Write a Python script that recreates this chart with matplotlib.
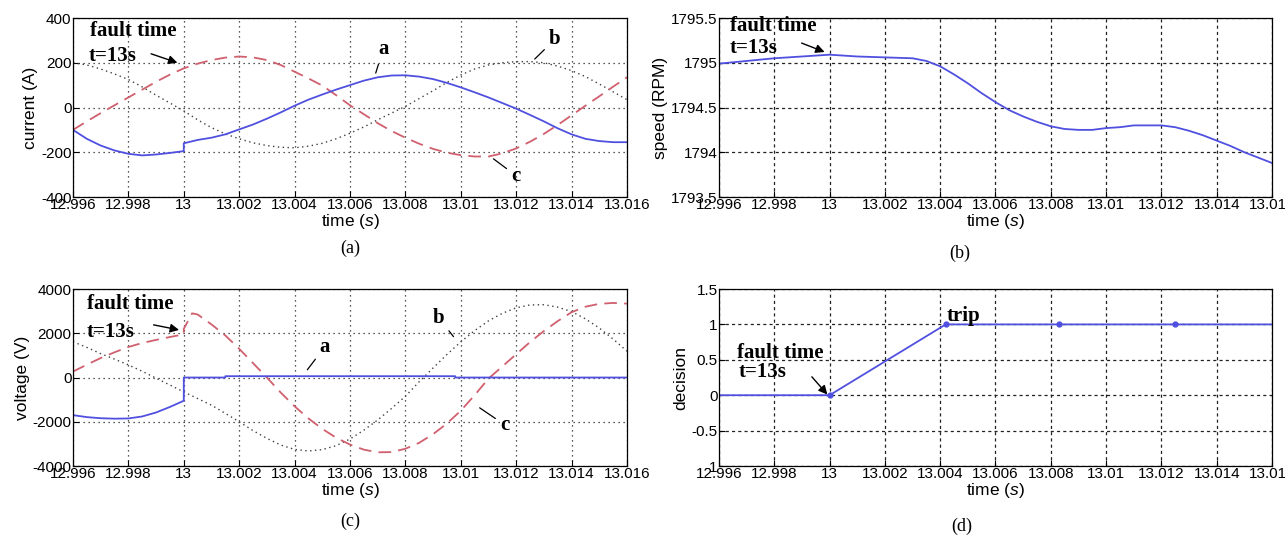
import numpy as np
import matplotlib
matplotlib.use('Agg')
import matplotlib.pyplot as plt

# ---- data ----
t_ticks = [12.996, 12.998, 13.0, 13.002, 13.004, 13.006, 13.008, 13.01, 13.012, 13.014, 13.016]
t_tick_labels = ['12.996', '12.998', '13', '13.002', '13.004', '13.006', '13.008',
                 '13.01', '13.012', '13.014', '13.016']

# common half-millisecond time base for the sinusoidal traces
t_half = [12.996, 12.9965, 12.997, 12.9975, 12.998, 12.9985, 12.999, 12.9995, 13.0,
          13.0005, 13.001, 13.0015, 13.002, 13.0025, 13.003, 13.0035, 13.004, 13.0045,
          13.005, 13.0055, 13.006, 13.0065, 13.007, 13.0075, 13.008, 13.0085, 13.009,
          13.0095, 13.010, 13.0105, 13.011, 13.0115, 13.012, 13.0125, 13.013, 13.0135,
          13.014, 13.0145, 13.015, 13.0155, 13.016]

# (a) phase currents
t_ia = [12.996, 12.9965, 12.997, 12.9975, 12.998, 12.9985, 12.999, 12.9995, 13.0,
        13.0, 13.0005, 13.001, 13.0015, 13.002, 13.0025, 13.003, 13.0035, 13.004, 13.0045,
        13.005, 13.0055, 13.006, 13.0065, 13.007, 13.0075, 13.008, 13.0085, 13.009,
        13.0095, 13.010, 13.0105, 13.011, 13.0115, 13.012, 13.0125, 13.013, 13.0135,
        13.014, 13.0145, 13.015, 13.0155, 13.016]
ia = [-100, -140, -170, -192, -207, -214, -210, -203, -195,
      -160, -145, -135, -120, -98, -76, -50, -22, 8, 35,
      58, 80, 100, 120, 135, 143, 144, 138, 127,
      110, 90, 68, 45, 20, -5, -33, -62, -93,
      -120, -140, -150, -155, -155]
ib = [200, 190, 172, 150, 125, 92, 55, 20, -15,
      -55, -90, -118, -140, -158, -170, -178, -180, -173,
      -160, -140, -115, -87, -55, -25, 5, 40, 75,
      112, 145, 172, 190, 200, 205, 205, 200, 185,
      165, 138, 105, 70, 35]
ic = [-100, -62, -25, 10, 45, 80, 115, 147, 175,
      196, 212, 223, 228, 224, 212, 190, 160, 130,
      98, 55, 10, -30, -70, -105, -135, -162, -185,
      -202, -213, -219, -219, -205, -183, -153, -118, -78,
      -35, 8, 50, 93, 135]

# (b) rotor speed
t_spd = [12.996, 12.997, 12.998, 12.999, 13.0, 13.001, 13.002, 13.003, 13.0035, 13.004,
         13.0045, 13.005, 13.0055, 13.006, 13.0065, 13.007, 13.0075, 13.008, 13.0085,
         13.009, 13.0095, 13.010, 13.0105, 13.011, 13.0115, 13.012, 13.0125, 13.013,
         13.0135, 13.014, 13.0145, 13.015, 13.0155, 13.016]
spd = [1794.99, 1795.02, 1795.05, 1795.07, 1795.09, 1795.07, 1795.06, 1795.05, 1795.02, 1794.96,
       1794.87, 1794.77, 1794.66, 1794.56, 1794.47, 1794.40, 1794.34, 1794.29, 1794.26,
       1794.25, 1794.25, 1794.27, 1794.28, 1794.30, 1794.30, 1794.30, 1794.28, 1794.24,
       1794.19, 1794.13, 1794.07, 1794.0, 1793.94, 1793.88]

# (c) phase voltages
t_va = [12.996, 12.9965, 12.997, 12.9975, 12.998, 12.9985, 12.999, 12.9995, 13.0,
        13.0, 13.0015, 13.0015, 13.0098, 13.0098, 13.016]
va = [-1700, -1790, -1840, -1860, -1850, -1760, -1580, -1330, -1050,
      0, 0, 60, 60, 0, 0]
vb = [1620, 1360, 1080, 830, 570, 280, -30, -340, -650,
      -950, -1250, -1620, -2000, -2400, -2750, -3050, -3250, -3320,
      -3260, -3080, -2780, -2380, -1920, -1400, -850, -190, 430,
      1040, 1610, 2120, 2560, 2900, 3150, 3280, 3290, 3180,
      2980, 2650, 2240, 1740, 1190]
t_vc = [12.996, 12.9965, 12.997, 12.9975, 12.998, 12.9985, 12.999, 12.9995, 13.0,
        13.0, 13.0003, 13.0005, 13.001, 13.0015, 13.002, 13.0025, 13.003, 13.0035, 13.004,
        13.0045, 13.005, 13.0055, 13.006, 13.0065, 13.007, 13.0075, 13.008, 13.0085,
        13.009, 13.0095, 13.010, 13.0105, 13.011, 13.0115, 13.012, 13.0125, 13.013,
        13.0135, 13.014, 13.0145, 13.015, 13.0155, 13.016]
vc = [270, 580, 880, 1140, 1380, 1560, 1700, 1830, 1950,
      2200, 2900, 2850, 2400, 1900, 1300, 650, 0, -680, -1300,
      -1850, -2320, -2720, -3030, -3260, -3380, -3370, -3220, -2950,
      -2560, -2080, -1500, -800, -50, 500, 1050, 1600, 2100,
      2550, 2950, 3200, 3330, 3370, 3340]

# (d) relay decision
t_dec = [12.996, 13.0, 13.0042, 13.0083, 13.0125, 13.016]
dec = [0, 0, 1, 1, 1, 1]
t_dec_pts = [13.0, 13.0042, 13.0083, 13.0125]
dec_pts = [0, 1, 1, 1]

blue = '#5050e0'
red = '#d0606e'
dot_col = '#404040'

plt.rcParams['font.family'] = ['Liberation Sans', 'DejaVu Sans']
plt.rcParams['mathtext.fontset'] = 'custom'
plt.rcParams['mathtext.it'] = 'Liberation Sans:italic'

fig = plt.figure(figsize=(12.85, 5.39), dpi=100)
ax_a = fig.add_axes([0.0568, 0.6345, 0.4311, 0.3321])
ax_b = fig.add_axes([0.5595, 0.6345, 0.4304, 0.3321])
ax_c = fig.add_axes([0.0568, 0.1354, 0.4311, 0.3284])
ax_d = fig.add_axes([0.5595, 0.1354, 0.4304, 0.3284])


def style_axis(ax, yticks, ylabels, ylabel, grid_ls):
    ax.set_xlim(12.996, 13.016)
    ax.set_ylim(yticks[0], yticks[-1])
    ax.set_xticks(t_ticks)
    ax.set_xticklabels(t_tick_labels, fontsize=11)
    ax.set_yticks(yticks)
    ax.set_yticklabels(ylabels, fontsize=11)
    ax.tick_params(direction='in', length=4, pad=1)
    ax.grid(True, color='#222222', linestyle=grid_ls, linewidth=0.9)
    ax.set_xlabel('time ($s$)', fontsize=12.5, labelpad=0)
    ax.set_ylabel(ylabel, fontsize=12.5, labelpad=2)
    for sp in ax.spines.values():
        sp.set_linewidth(0.9)


serif = dict(family=['Liberation Serif', 'DejaVu Serif'], fontsize=15, fontweight='bold')
arrow = dict(arrowstyle='-|>', color='black', lw=1.0, mutation_scale=13, shrinkA=0, shrinkB=0)
plain = dict(arrowstyle='-', color='black', lw=0.9)

# (a) current
style_axis(ax_a, [-400, -200, 0, 200, 400], ['-400', '-200', '0', '200', '400'],
           'current (A)', (0, (1, 3)))
ax_a.plot(t_half, ib, color=dot_col, linestyle=(0, (1, 2.5)), lw=1.0)
ax_a.plot(t_half, ic, color=red, linestyle=(0, (7, 4)), lw=1.3)
ax_a.plot(t_ia, ia, color=blue, lw=1.3)
ax_a.text(12.9966, 343, 'fault time', va='center', **serif)
ax_a.text(12.99655, 228, 't=13s', va='center', **serif)
ax_a.annotate('', xy=(12.99977, 200), xytext=(12.99882, 240), arrowprops=arrow)
ax_a.annotate('a', xy=(13.0069, 142), xytext=(13.0072, 262), ha='center', va='center',
              arrowprops=plain, **serif)
ax_a.annotate('b', xy=(13.0126, 208), xytext=(13.0134, 305), ha='center', va='center',
              arrowprops=plain, **serif)
ax_a.annotate('c', xy=(13.0111, -222), xytext=(13.0120, -305), ha='center', va='center',
              arrowprops=plain, **serif)

# (b) speed
style_axis(ax_b, [1793.5, 1794, 1794.5, 1795, 1795.5],
           ['1793.5', '1794', '1794.5', '1795', '1795.5'], 'speed (RPM)', (0, (2.5, 2.5)))
ax_b.plot(t_spd, spd, color=blue, lw=1.3)
ax_b.text(12.9964, 1795.41, 'fault time', va='center', **serif)
ax_b.text(12.9964, 1795.17, 't=13s', va='center', **serif)
ax_b.annotate('', xy=(12.99982, 1795.12), xytext=(12.99899, 1795.22), arrowprops=arrow)

# (c) voltage
style_axis(ax_c, [-4000, -2000, 0, 2000, 4000], ['-4000', '-2000', '0', '2000', '4000'],
           'voltage (V)', (0, (1, 3)))
ax_c.plot(t_half, vb, color=dot_col, linestyle=(0, (1, 2.5)), lw=1.0)
ax_c.plot(t_vc, vc, color=red, linestyle=(0, (7, 4)), lw=1.3)
ax_c.plot(t_va, va, color=blue, lw=1.3)
ax_c.text(12.9965, 3300, 'fault time', va='center', **serif)
ax_c.text(12.9965, 2050, 't=13s', va='center', **serif)
ax_c.annotate('', xy=(12.99983, 2150), xytext=(12.99891, 2380), arrowprops=arrow)
ax_c.annotate('a', xy=(13.0044, 250), xytext=(13.0051, 1400), ha='center', va='center',
              arrowprops=plain, **serif)
ax_c.annotate('b', xy=(13.0098, 1750), xytext=(13.0092, 2700), ha='center', va='center',
              arrowprops=plain, **serif)
ax_c.annotate('c', xy=(13.0106, -1300), xytext=(13.0116, -2150), ha='center', va='center',
              arrowprops=plain, **serif)

# (d) decision
style_axis(ax_d, [-1, -0.5, 0, 0.5, 1, 1.5], ['-1', '-0.5', '0', '0.5', '1', '1.5'],
           'decision', (0, (2.5, 2.5)))
ax_d.plot(t_dec, dec, color=blue, lw=1.3)
ax_d.plot(t_dec_pts, dec_pts, color=blue, linestyle='none', marker='o', ms=3.5)
ax_d.text(12.99665, 0.60, 'fault time', va='center', **serif)
ax_d.text(12.99672, 0.33, 't=13s', va='center', **serif)
ax_d.annotate('', xy=(12.99992, 0.01), xytext=(12.99936, 0.26), arrowprops=arrow)
ax_d.text(13.00425, 1.12, 'trip', va='center', **serif)

# panel captions
cap = dict(family=['Liberation Serif', 'DejaVu Serif'], fontsize=13, ha='center', va='center')
fig.text(350 / 1285, 1 - 248 / 539, '(a)', **cap)
fig.text(960 / 1285, 1 - 253 / 539, '(b)', **cap)
fig.text(350 / 1285, 1 - 521 / 539, '(c)', **cap)
fig.text(962 / 1285, 1 - 526 / 539, '(d)', **cap)

fig.savefig('out.png', dpi=100)
